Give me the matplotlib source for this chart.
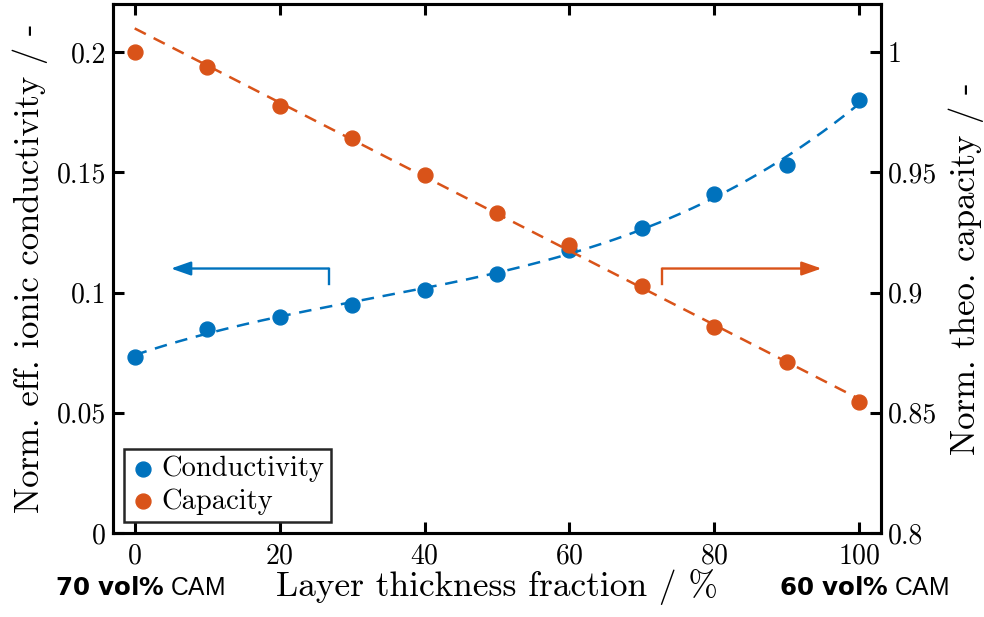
import numpy as np
import matplotlib
matplotlib.use("Agg")
import matplotlib.pyplot as plt

# data
thickness = [0, 10, 20, 30, 40, 50, 60, 70, 80, 90, 100]
conductivity = [0.0731, 0.0849, 0.0900, 0.0947, 0.1012, 0.1078, 0.1176, 0.1268, 0.1408, 0.1532, 0.1800]
capacity = [1.0000, 0.9936, 0.9774, 0.9643, 0.9489, 0.9332, 0.9197, 0.9028, 0.8857, 0.8711, 0.8543]

left_ticks = [0, 0.05, 0.1, 0.15, 0.2]
left_labels = ["0", "0.05", "0.1", "0.15", "0.2"]
right_ticks = [0.8, 0.85, 0.9, 0.95, 1.0]
right_labels = ["0.8", "0.85", "0.9", "0.95", "1"]
x_ticks = [0, 20, 40, 60, 80, 100]

blue = "#0072BD"
orange = "#D95319"

plt.rcParams["font.family"] = "cmr10"
plt.rcParams["axes.formatter.use_mathtext"] = True

fig = plt.figure(figsize=(9.84, 6.17), dpi=100)
ax = fig.add_axes([0.1148, 0.1361, 0.7805, 0.8574])
ax2 = ax.twinx()

# fitted trend lines (cubic for conductivity, linear for capacity)
xf = np.linspace(0, 100, 200)
p1 = np.polyfit(thickness, conductivity, 3)
p2 = np.polyfit(thickness[1:], capacity[1:], 1)
ax.plot(xf, np.polyval(p1, xf), color=blue, lw=1.8, dashes=(5, 3.5))
ax2.plot(xf, np.polyval(p2, xf), color=orange, lw=1.8, dashes=(5, 3.5))

h1 = ax.scatter(thickness, conductivity, s=115, color=blue, zorder=3, label="Conductivity")
h2 = ax2.scatter(thickness, capacity, s=115, color=orange, zorder=3, label="Capacity")

ax.set_xlim(-3, 103)
ax.set_ylim(0, 0.22)
ax2.set_ylim(0.8, 1.02)

ax.set_xticks(x_ticks)
ax.set_yticks(left_ticks)
ax.set_yticklabels(left_labels)
ax2.set_yticks(right_ticks)
ax2.set_yticklabels(right_labels)

for a in (ax, ax2):
    for s in a.spines.values():
        s.set_linewidth(2.2)
ax.tick_params(axis="both", direction="in", length=8, width=2.2, labelsize=20, top=True, pad=7)
ax.tick_params(axis="y", pad=5)
ax2.tick_params(axis="y", direction="in", length=8, width=2.2, labelsize=20, pad=5)

ax.set_xlabel("Layer thickness fraction / %", fontsize=25.5, labelpad=0)
ax.set_ylabel("Norm. eff. ionic conductivity / -", fontsize=25, labelpad=6)
ax2.set_ylabel("Norm. theo. capacity / -", fontsize=25, rotation=90, labelpad=8)

# direction arrows
head = "-|>,head_length=1.2,head_width=0.42"
ax.plot([26.8, 26.8], [0.1037, 0.110], color=blue, lw=1.7)
ax.annotate("", xy=(5, 0.110), xytext=(26.8, 0.110),
            arrowprops=dict(arrowstyle=head, color=blue, lw=1.7, shrinkA=0, shrinkB=0))
ax.plot([72.8, 72.8], [0.1037, 0.110], color=orange, lw=1.7)
ax.annotate("", xy=(94.8, 0.110), xytext=(72.8, 0.110),
            arrowprops=dict(arrowstyle=head, color=orange, lw=1.7, shrinkA=0, shrinkB=0))

leg = ax2.legend([h1, h2], ["Conductivity", "Capacity"], loc="lower left", fontsize=20.5,
                 frameon=True, fancybox=False, edgecolor="#262626", framealpha=1,
                 borderaxespad=0.4, handletextpad=0.25, borderpad=0.25, labelspacing=0.2,
                 handlelength=0.8, scatterpoints=1)
leg.get_frame().set_linewidth(1.8)

# composition labels under the axis ends
fig.text(0.056, 0.035, r"$\bf{70\ vol\%}$ CAM", fontsize=17.7, family="Liberation Sans")
fig.text(0.792, 0.035, r"$\bf{60\ vol\%}$ CAM", fontsize=17.7, family="Liberation Sans")

fig.savefig("out.png", dpi=100)
